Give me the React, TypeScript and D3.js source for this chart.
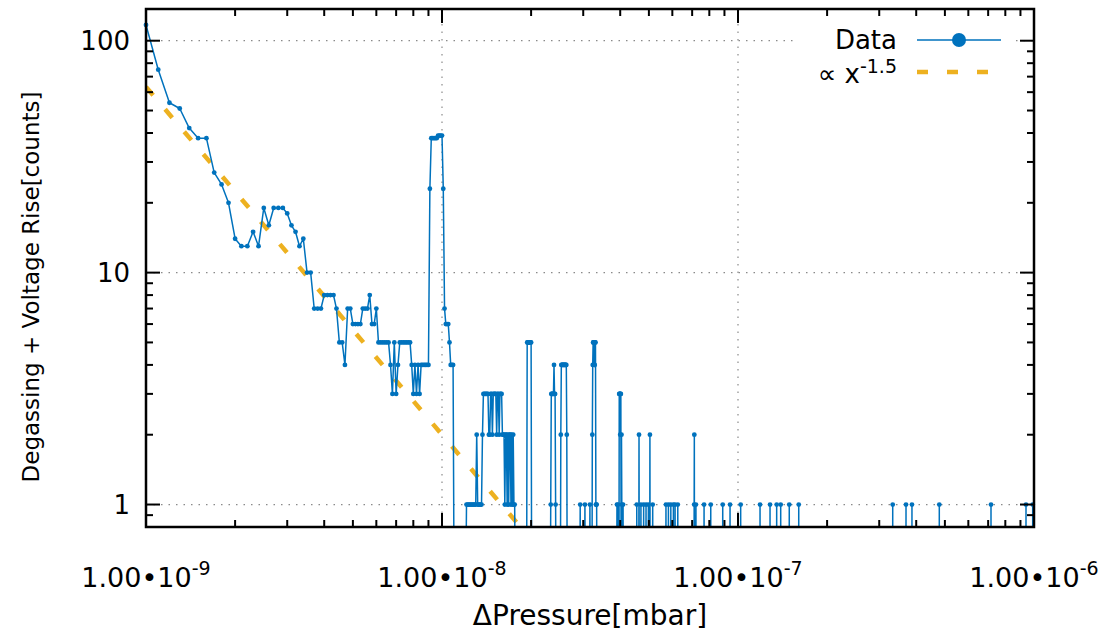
import React from 'react'
import * as d3 from 'd3'

// ΔPressure bins in units of 1e-10 mbar with their counts; bins not listed hold 0 counts
const lowBins = [
  10, 11, 12, 13, 14, 15, 16, 17, 18, 19,
  20, 21, 22, 23, 24, 25, 26, 27, 28, 29,
  30, 31, 32, 33, 34, 35, 36, 37, 38, 39,
  40, 41, 42, 43, 44, 45, 46, 47, 48, 49,
  50, 51, 52, 53, 54, 55, 56, 57, 58, 59,
  60, 61, 62, 63, 64, 65, 66, 67, 68, 69,
  70, 71, 72, 73, 74, 75, 76, 77, 78, 79,
  80, 81, 82, 83, 84, 85, 86, 87, 88, 89,
  90, 91, 92, 93, 94, 95, 96, 97, 98, 99,
  100, 101, 102, 103, 104, 105, 106, 107, 108, 109
]
const lowCounts = [
  117, 75, 54, 51, 42, 38, 38, 27, 24, 20,
  14, 13, 13, 15, 13, 19, 16, 19, 19, 19,
  18, 16, 15, 13, 14, 10, 10, 7, 7, 7,
  8, 8, 8, 8, 7, 5, 5, 4, 7, 7,
  6, 6, 6, 6, 7, 7, 7, 8, 6, 6,
  7, 5, 5, 5, 5, 5, 5, 4, 3, 5,
  3, 4, 5, 5, 5, 5, 5, 5, 5, 4,
  3, 4, 3, 4, 3, 4, 4, 4, 4, 4,
  4, 23, 38, 38, 38, 38, 38, 39, 39, 39,
  39, 23, 7, 6, 6, 6, 5, 4, 4, 4
]
const highBins = [
  121, 122, 123, 124, 125, 126, 127, 128, 129, 130,
  131, 132, 133, 134, 135, 136, 137, 138, 139, 140,
  141, 142, 143, 144, 145, 146, 147, 148, 149, 150,
  151, 152, 153, 154, 155, 156, 157, 158, 159, 160,
  161, 162, 163, 164, 165, 166, 167, 168, 169, 170,
  171, 172, 173, 174, 175, 176,
  194, 195, 196, 197, 198, 199, 200,
  233, 234, 235, 236, 237, 238, 239, 240, 241, 242,
  252, 253, 254, 255, 256, 257, 258, 259, 260, 261, 262, 263, 264,
  293, 304, 316, 322, 323, 324, 325, 326, 327, 328, 329, 330, 331, 332, 333,
  390, 393, 397, 398, 399, 400, 401, 402, 404, 405, 409,
  455, 463, 470, 480, 489, 498, 504, 515,
  571, 582, 593, 605, 613, 626,
  711, 712, 721, 768, 809, 888, 940, 1021, 1187, 1283, 1351, 1394, 1490, 1604,
  3332, 3695, 3870, 4787, 7157, 9397, 9899
]
const highCounts = [
  1, 1, 1, 1, 1, 1, 1, 1, 1, 1,
  2, 1, 1, 1, 1, 1, 2, 3, 3, 3,
  3, 3, 3, 2, 2, 3, 3, 2, 3, 3,
  3, 3, 2, 3, 3, 2, 3, 3, 3, 2,
  2, 2, 1, 2, 2, 1, 2, 1, 2, 2,
  1, 2, 1, 2, 1, 1,
  5, 5, 5, 5, 5, 5, 5,
  1, 3, 3, 3, 3, 3, 4, 3, 3, 1,
  2, 4, 4, 4, 4, 4, 4, 4, 4, 4, 4, 4, 2,
  1, 1, 1, 2, 4, 5, 5, 5, 4, 4, 5, 5, 1, 1, 1,
  1, 1, 3, 3, 3, 2, 3, 3, 2, 1, 1,
  1, 2, 1, 1, 1, 1, 2, 1,
  1, 1, 1, 1, 1, 1,
  1, 2, 1, 1, 1, 1, 1, 1, 1, 1, 1, 1, 1, 1,
  1, 1, 1, 1, 1, 1, 1
]
const binWidth = 1e-10

// power law guide: counts ∝ ΔP^-1.5
const fitAmplitude = 2e-12
const fitExponent = -1.5

const xMajorTicks = [1e-9, 1e-8, 1e-7, 1e-6]
const xTickExponents = ['-9', '-8', '-7', '-6']
const yMajorTicks = [1, 10, 100]
const yTickLabels = ['1', '10', '100']

const blue = '#0072BD'
const gold = '#EDB120'
const font = 'DejaVu Sans, Verdana, sans-serif'

const W = 1113
const H = 637
const left = 146
const right = 1034
const top = 9
const bottom = 527

const App = () => {
  const x = d3.scaleLog().domain([1e-9, 1e-6]).range([left, right])
  const y = d3.scaleLog().domain([0.8, 137]).range([bottom, top])

  // full series: empty bins next to filled ones are 0 counts
  const bins = [...lowBins, ...highBins]
  const counts = [...lowCounts, ...highCounts]
  const filled = new Set(bins)
  const series: [number, number][] = []
  bins.forEach((b, i) => {
    const last = series[series.length - 1]
    if (i > 0 && !filled.has(b - 1) && (!last || last[0] !== b - 1)) series.push([b - 1, 0])
    series.push([b, counts[i]])
    if (i < bins.length - 1 && !filled.has(b + 1)) series.push([b + 1, 0])
  })

  const yOf = (v: number) => (v > 0 ? y(v) : y(0.3))
  const line = d3
    .line<[number, number]>()
    .x(d => x(d[0] * binWidth))
    .y(d => yOf(d[1]))

  const fitX0 = 1e-9
  const fitX1 = Math.pow(y.domain()[0] / fitAmplitude, 1 / fitExponent)
  const fitPts: [number, number][] = [fitX0, fitX1].map(p => [x(p), y(fitAmplitude * Math.pow(p, fitExponent))])

  const xMinor = x.ticks().filter(t => !xMajorTicks.some(m => Math.abs(m - t) / m < 1e-6))
  const yMinor = y.ticks().filter(t => !yMajorTicks.includes(t))

  const majorLen = 14
  const minorLen = 7

  return (
    <svg width={W} height={H} style={{ position: 'absolute', left: 0, top: 0, background: '#fff' }} fontFamily={font}>
      <defs>
        <clipPath id='plotArea'>
          <rect x={left} y={top} width={right - left} height={bottom - top} />
        </clipPath>
      </defs>

      {/* grid */}
      <g stroke='#8a8a8a' strokeWidth={1.2} strokeDasharray='1.5 6'>
        {xMajorTicks.slice(1, -1).map(t => (
          <line key={'gx' + t} x1={x(t)} x2={x(t)} y1={top} y2={bottom} />
        ))}
        {yMajorTicks.map(t => (
          <line key={'gy' + t} x1={left} x2={right} y1={y(t)} y2={y(t)} />
        ))}
      </g>

      {/* legend box hides grid */}
      <rect x={796} y={18} width={220} height={70} fill='#fff' />

      {/* fit */}
      <g clipPath='url(#plotArea)'>
        <line
          x1={fitPts[0][0]} y1={fitPts[0][1]} x2={fitPts[1][0]} y2={fitPts[1][1]}
          stroke={gold} strokeWidth={4.5} strokeDasharray='11 18.5'
        />
        <path d={line(series) || ''} fill='none' stroke={blue} strokeWidth={1.5} strokeLinejoin='round' />
      </g>
      <g fill={blue}>
        {series.filter(d => d[1] > 0).map((d, i) => (
          <circle key={i} cx={x(d[0] * binWidth)} cy={y(d[1])} r={2.4} />
        ))}
      </g>

      {/* ticks */}
      <g stroke='#000' strokeWidth={2}>
        {xMajorTicks.map(t => (
          <g key={'xt' + t}>
            <line x1={x(t)} x2={x(t)} y1={bottom} y2={bottom - majorLen} />
            <line x1={x(t)} x2={x(t)} y1={top} y2={top + majorLen} />
          </g>
        ))}
        {xMinor.map(t => (
          <g key={'xm' + t}>
            <line x1={x(t)} x2={x(t)} y1={bottom} y2={bottom - minorLen} />
            <line x1={x(t)} x2={x(t)} y1={top} y2={top + minorLen} />
          </g>
        ))}
        {yMajorTicks.map(t => (
          <g key={'yt' + t}>
            <line x1={left} x2={left + majorLen} y1={y(t)} y2={y(t)} />
            <line x1={right} x2={right - majorLen} y1={y(t)} y2={y(t)} />
          </g>
        ))}
        {yMinor.map(t => (
          <g key={'ym' + t}>
            <line x1={left} x2={left + minorLen} y1={y(t)} y2={y(t)} />
            <line x1={right} x2={right - minorLen} y1={y(t)} y2={y(t)} />
          </g>
        ))}
      </g>

      {/* frame */}
      <rect x={left} y={top} width={right - left} height={bottom - top} fill='none' stroke='#000' strokeWidth={2.5} />

      {/* tick labels */}
      <g fontSize={26} fill='#000'>
        {yMajorTicks.map((t, i) => (
          <text key={'yl' + t} x={130} y={y(t)} dy='0.36em' textAnchor='end'>{yTickLabels[i]}</text>
        ))}
        {xMajorTicks.map((t, i) => (
          <text key={'xl' + t} x={x(t)} y={587} textAnchor='middle' fontSize={27}>
            1.00•10<tspan fontSize={19} dy={-12}>{xTickExponents[i]}</tspan>
          </text>
        ))}
      </g>

      {/* axis titles */}
      <text x={(left + right) / 2} y={625} textAnchor='middle' fontSize={28}>ΔPressure[mbar]</text>
      <text transform='translate(39,287) rotate(-90)' textAnchor='middle' fontSize={23}>
        Degassing + Voltage Rise[counts]
      </text>

      {/* legend */}
      <g fontSize={26}>
        <text x={897} y={49} textAnchor='end'>Data</text>
        <line x1={917} x2={1001} y1={40} y2={40} stroke={blue} strokeWidth={1.5} />
        <circle cx={959} cy={40} r={7} fill={blue} />
        <text x={897} y={83} textAnchor='end'>
          ∝ x<tspan fontSize={19} dy={-10}>-1.5</tspan>
        </text>
        <line x1={917} x2={1001} y1={72} y2={72} stroke={gold} strokeWidth={4.5} strokeDasharray='11 19' />
      </g>
    </svg>
  )
}

export default App
